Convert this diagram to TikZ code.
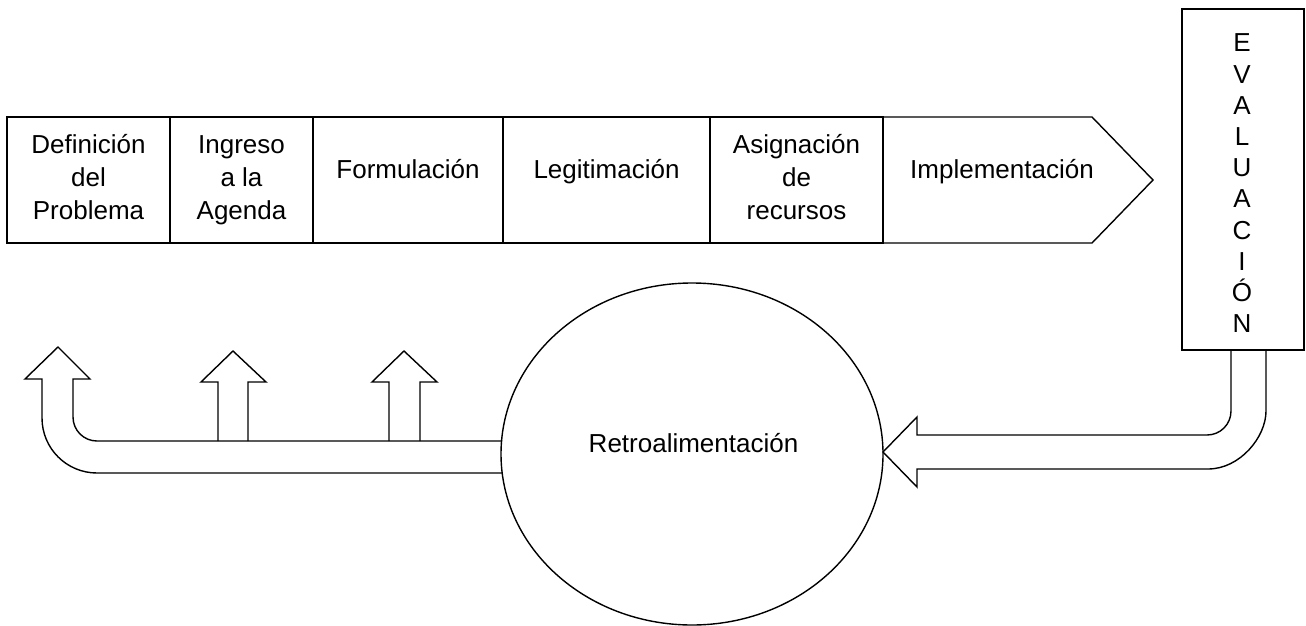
\documentclass[tikz,border=0pt]{standalone}
\usepackage{fontspec}
\setmainfont{Liberation Sans}
\usetikzlibrary{shapes.geometric}
\newcommand\vstack[2]{\vtop{\baselineskip=#1\lineskiplimit=-100pt\lineskip=0pt\halign{\hfil##\hfil\cr#2\crcr}}}
\begin{document}
\begin{tikzpicture}[x=1pt,y=-1pt,
  line width=1.4pt, line join=miter,
  stagebox/.style={draw, rectangle, inner sep=0pt, minimum height=126pt},
  lbl/.style={inner sep=0pt, anchor=base, font=\fontsize{26}{31.2}\selectfont},
  blockarrow/.style={draw, line width=1.4pt}]
\useasboundingbox (0,0) rectangle (1306,626);

% process band
\node[stagebox, minimum width=163pt] (s1) at (88.5,180) {};
\node[stagebox, minimum width=143pt] (s2) at (241.5,180) {};
\node[stagebox, minimum width=190pt] (s3) at (408,180) {};
\node[stagebox, minimum width=207pt] (s4) at (606.5,180) {};
\node[stagebox, minimum width=173pt] (s5) at (796.5,180) {};
\draw (883,117) coordinate (s6) -- (1092,117) -- (1153,180) -- (1092,243) -- (883,243) -- cycle;

\node[lbl] (t1) at (88.5,153) {\vstack{33pt}{Definición\cr del\cr Problema}};
\node[lbl] (t2) at (241.5,153) {\vstack{33pt}{Ingreso\cr a la\cr Agenda}};
\node[lbl] (t3) at (408,178) {Formulación};
\node[lbl] (t4) at (606.5,178) {Legitimación};
\node[lbl] (t5) at (796.5,153) {\vstack{33pt}{Asignación\cr de\cr recursos}};
\node[lbl] (t6) at (1002,178) {Implementación};

% evaluation box
\node[draw, rectangle, inner sep=0pt, minimum width=122pt, minimum height=341pt] (eval) at (1243,179.5) {};
\node[lbl] (evtext) at (1242,52) {\vstack{31.2pt}{E\cr V\cr A\cr L\cr U\cr A\cr C\cr I\cr Ó\cr N}};

% bent arrow from evaluation to feedback
\draw[blockarrow] (1231,350) -- (1231,411)
  .. controls (1231,424.3) and (1220.3,435) .. (1207,435)
  -- (917,435) -- (917,417) -- (883,452) -- (917,487) -- (917,469)
  -- (1208,469)
  .. controls (1240,469) and (1266,437) .. (1266,411)
  -- (1266,350);

% feedback arrow to the left
\draw[blockarrow] (502,441) -- (97,441)
  .. controls (83.7,441) and (73,430.3) .. (73,417)
  -- (73,379) -- (90,379) -- (58,347) -- (25,379) -- (42,379)
  -- (42,418)
  .. controls (42,448.4) and (66.6,473) .. (97,473)
  -- (502,473);

% small up arrows
\draw[blockarrow] (218,441) -- (218,382) -- (201,382) -- (233,351) -- (266,382) -- (248,382) -- (248,441);
\draw[blockarrow] (389,441) -- (389,382) -- (372,382) -- (404,351) -- (437,382) -- (420,382) -- (420,441);

% feedback circle
\node[draw, ellipse, inner sep=0pt, minimum width=382pt, minimum height=342pt] (retro) at (692,454) {};
\node[lbl] (rt) at (693.5,452) {Retroalimentación};
\end{tikzpicture}
\end{document}
